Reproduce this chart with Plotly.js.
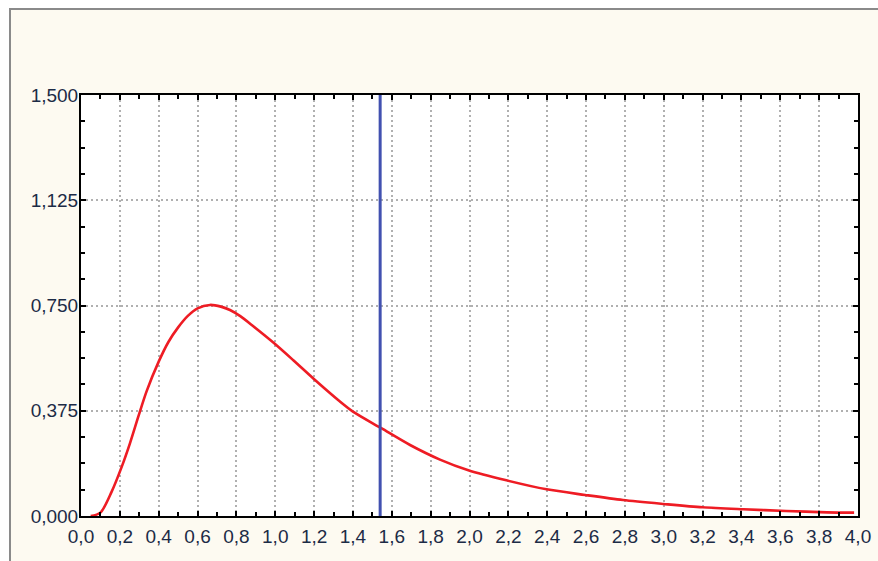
<!DOCTYPE html>
<html>
<head>
<meta charset="utf-8">
<script src="https://cdn.plot.ly/plotly-3.0.1.min.js"></script>
<style>html,body{margin:0;padding:0;background:#fff;}#chart{width:878px;height:561px;}</style>
</head>
<body>
<div id="chart"></div>
<script>
// Density curve
const curveX = [0.05, 0.1, 0.158, 0.21, 0.252, 0.295, 0.338, 0.4, 0.45, 0.5, 0.55, 0.6, 0.664, 0.72, 0.767, 0.82, 0.887, 0.99, 1.093, 1.196, 1.333, 1.4, 1.548, 1.694, 1.848, 1.994, 2.19, 2.397, 2.595, 2.79, 2.998, 3.2, 3.41, 3.63, 3.84, 3.98];
const curveY = [0.0, 0.012, 0.087, 0.176, 0.259, 0.354, 0.445, 0.55, 0.62, 0.672, 0.713, 0.74, 0.752, 0.746, 0.734, 0.712, 0.676, 0.618, 0.555, 0.49, 0.408, 0.372, 0.312, 0.253, 0.201, 0.163, 0.127, 0.095, 0.075, 0.057, 0.043, 0.031, 0.024, 0.018, 0.013, 0.012];
// Vertical marker
const markerX = [1.54, 1.54];
const markerY = [0, 1.5];
// Axis ticks
const xTicks = [0,0.2,0.4,0.6,0.8,1.0,1.2,1.4,1.6,1.8,2.0,2.2,2.4,2.6,2.8,3.0,3.2,3.4,3.6,3.8,4.0];
const yTicks = [0, 0.375, 0.75, 1.125, 1.5];

const tickFont = {family: 'Liberation Sans, Arial, sans-serif', size: 19, color: '#1c2b46'};

const traces = [
  {x: curveX, y: curveY, type: 'scatter', mode: 'lines', line: {color: '#ee1c24', width: 2.6, shape: 'spline', smoothing: 0.8}, hoverinfo: 'skip'},
  {x: markerX, y: markerY, type: 'scatter', mode: 'lines', line: {color: '#4151b0', width: 3}, hoverinfo: 'skip'}
];

const axisCommon = {
  showline: true, linecolor: '#000', linewidth: 2, mirror: 'ticks',
  ticks: 'inside', ticklen: 5, tickwidth: 2, tickcolor: '#000',
  showgrid: true, gridcolor: '#b0b0b0', gridwidth: 2, griddash: '2px,3px',
  zeroline: false, tickfont: tickFont, fixedrange: true
};

const layout = {
  width: 878, height: 561,
  margin: {l: 81, r: 20, t: 95, b: 45},
  paper_bgcolor: '#ffffff',
  plot_bgcolor: 'rgba(0,0,0,0)',
  separators: ',.',
  showlegend: false,
  xaxis: Object.assign({}, axisCommon, {
    range: [0, 4], tickvals: xTicks, tickformat: '.1f', ticklabelstandoff: 2,
    minor: {dtick: 0.1, tick0: 0, ticks: 'inside', ticklen: 4, tickwidth: 2, tickcolor: '#000', showgrid: false}
  }),
  yaxis: Object.assign({}, axisCommon, {
    range: [0, 1.5], tickvals: yTicks, tickformat: '.3f', ticklabelstandoff: -3,
    minor: {dtick: 0.09375, tick0: 0, ticks: 'inside', ticklen: 4, tickwidth: 2, tickcolor: '#000', showgrid: false}
  }),
  shapes: [
    {type: 'rect', xref: 'paper', yref: 'paper', layer: 'below',
     x0: (10 - 81) / 777, x1: 1.1, y0: -0.2, y1: (516 - 9) / 421,
     fillcolor: '#fdfaf1', line: {color: '#8a8a8a', width: 2}},
    {type: 'rect', xref: 'paper', yref: 'paper', layer: 'below',
     x0: 0, x1: 1, y0: 0, y1: 1, fillcolor: '#ffffff', line: {width: 0}}
  ]
};

Plotly.newPlot('chart', traces, layout, {displayModeBar: false, staticPlot: true});
</script>
</body>
</html>
